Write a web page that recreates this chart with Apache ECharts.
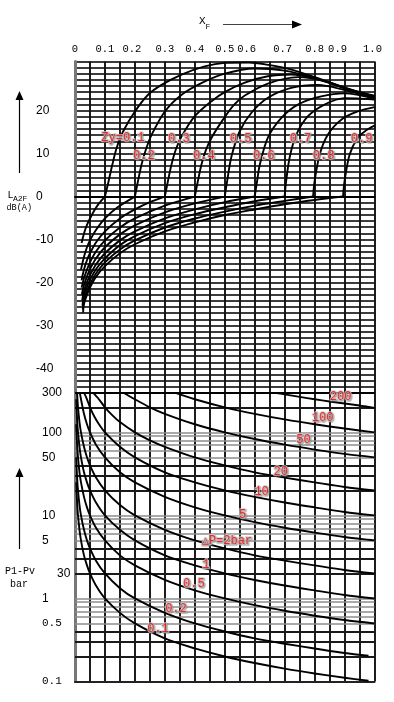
<!DOCTYPE html>
<html><head><meta charset="utf-8">
<script src="https://cdn.jsdelivr.net/npm/echarts@6/dist/echarts.min.js"></script>
<style>html,body{margin:0;padding:0;background:#fff}#c{width:394px;height:702px}</style>
</head><body><div id="c"></div><script>
// ---------- tick labels ----------
const xTickText = ['0','0.1','0.2','0.3','0.4','0.5','0.6','0.7','0.8','0.9','1.0'];
const dbTickValues = [20,10,0,-10,-20,-30,-40];
const pTickValues = [300,100,50,10,5,2,1,0.5,0.1];
const pTickText = ['300','100','50','10','5','30','1','0.5','0.1'];
const pGridMajor = [200,40,30,20,4,3,2,0.4,0.3,0.2];
const pGridMinor = [100,90,80,70,60,50,10,9,8,7,6,5,1,0.9,0.8,0.7,0.6,0.5];

// ---------- upper panel: L_A2F vs x_F for Zy = 0.1 ... 0.9 ----------
const zyValues = [0.1,0.2,0.3,0.4,0.5,0.6,0.7,0.8,0.9];
const low01 = [[0.022,-10.8],[0.03,-8.6],[0.04,-6.6],[0.05,-5.1],[0.065,-3.2],[0.08,-1.6],[0.1,0]];
const low02 = [[0.02,-17],[0.03,-14],[0.04,-11.8],[0.05,-10.2],[0.07,-7.8],[0.1,-5.1],[0.14,-2.6],[0.2,0]];
const low03 = [[0.022,-19.5],[0.03,-17],[0.04,-14.8],[0.05,-13.2],[0.07,-10.7],[0.1,-8.1],[0.15,-5.1],[0.2,-3],[0.25,-1.3],[0.3,0]];
const low04 = [[0.022,-21.2],[0.03,-19],[0.04,-17],[0.05,-15.3],[0.07,-12.8],[0.1,-10.2],[0.15,-7.2],[0.2,-5.1],[0.3,-2.1],[0.4,0]];
const low05 = [[0.023,-22.8],[0.03,-20.6],[0.04,-18.6],[0.05,-16.9],[0.07,-14.4],[0.1,-11.8],[0.15,-8.8],[0.2,-6.7],[0.3,-3.7],[0.4,-1.6],[0.5,0]];
const low06 = [[0.024,-24.2],[0.03,-22],[0.04,-19.9],[0.05,-18.3],[0.07,-15.8],[0.1,-13.2],[0.15,-10.2],[0.2,-8.1],[0.3,-5.1],[0.4,-3],[0.5,-1.3],[0.6,0]];
const low07 = [[0.025,-25.4],[0.03,-23.1],[0.04,-21],[0.05,-19.4],[0.07,-16.9],[0.1,-14.4],[0.15,-11.3],[0.2,-9.2],[0.3,-6.2],[0.4,-4.1],[0.5,-2.5],[0.6,-1.1],[0.7,0]];
const low08 = [[0.026,-26.3],[0.03,-24.1],[0.04,-22],[0.05,-20.4],[0.07,-17.9],[0.1,-15.3],[0.15,-12.3],[0.2,-10.2],[0.3,-7.2],[0.4,-5.1],[0.5,-3.5],[0.6,-2.1],[0.7,-1],[0.795,0]];
const low09 = [[0.027,-27],[0.03,-25],[0.04,-22.9],[0.05,-21.2],[0.07,-18.7],[0.1,-16.2],[0.15,-13.2],[0.2,-11.1],[0.3,-8.1],[0.4,-6],[0.5,-4.3],[0.6,-3],[0.7,-1.8],[0.8,-0.8],[0.895,0]];
const arc01 = [[0.1,0],[0.111,3.2],[0.125,7.5],[0.139,11.3],[0.161,15.2],[0.2,19.8],[0.244,23.7],[0.289,26],[0.356,28.4],[0.433,30.3],[0.5,31.1],[0.58,31.2],[0.64,30.7],[0.72,29.6],[0.833,27],[0.922,24.9],[1.0,23.5]];
const arc02 = [[0.2,0],[0.21,3.5],[0.222,7.4],[0.237,11],[0.256,14.4],[0.3,19.8],[0.356,23.7],[0.422,26.4],[0.5,28.6],[0.6,29.8],[0.7,29.3],[0.8,27.6],[0.9,25.3],[1.0,23.3]];
const arc03 = [[0.3,0],[0.31,3.5],[0.322,7.4],[0.337,11],[0.356,14],[0.4,18.7],[0.456,22.2],[0.5,24.3],[0.567,26.5],[0.644,28],[0.722,28.4],[0.8,27.5],[0.9,25.2],[1.0,23.2]];
const arc04 = [[0.4,0],[0.41,3.5],[0.422,7.4],[0.437,10.8],[0.456,13.7],[0.494,17.9],[0.53,21.3],[0.567,23.5],[0.644,26.3],[0.744,27.8],[0.833,26.9],[0.922,24.7],[1.0,23]];
const arc05 = [[0.5,0],[0.508,3.6],[0.522,9.2],[0.55,15.2],[0.589,19.5],[0.644,23],[0.722,25.3],[0.811,26],[0.9,24.8],[1.0,22.9]];
const arc06 = [[0.6,0],[0.608,3.6],[0.617,7.4],[0.644,13.7],[0.689,18.3],[0.744,21.4],[0.822,23.3],[0.9,24],[1.0,22.8]];
const arc07 = [[0.7,0],[0.705,3.6],[0.717,9.2],[0.739,14.4],[0.778,18.7],[0.833,21.4],[0.9,22.9],[1.0,22.6]];
const arc08 = [[0.795,0],[0.8,3.6],[0.817,9.8],[0.844,14.4],[0.889,17.9],[0.944,19.8],[1.0,20.8]];
const arc09 = [[0.895,0],[0.9,3.6],[0.917,9.8],[0.944,13.7],[0.97,15.3],[1.0,16.5]];
const zyNames = ['Zy=0.1','0.2','0.3','0.4','0.5','0.6','0.7','0.8','0.9'];
const zyLabelAt = [[0.16,13.6],[0.23,9.4],[0.347,13.4],[0.43,9.4],[0.553,13.4],[0.63,9.4],[0.753,13.4],[0.83,9.4],[0.957,13.4]];

// ---------- lower panel: P1-Pv vs x_F for ΔP ----------
const dpValues = [0.1,0.2,0.5,1,2,5,10,20,50,100,200];
const dp0_1 = [[0.004,25],[0.007,14.3],[0.01,10],[0.015,6.7],[0.02,5],[0.03,3.3],[0.04,2.5],[0.05,2],[0.07,1.43],[0.1,1],[0.15,0.67],[0.2,0.5],[0.3,0.33],[0.4,0.25],[0.5,0.2],[0.6,0.167],[0.7,0.143],[0.8,0.125],[0.9,0.111],[0.98,0.102]];
const dp0_2 = [[0.004,50],[0.007,28.5],[0.01,20],[0.015,13.3],[0.02,10],[0.03,6.7],[0.04,5],[0.05,4],[0.07,2.85],[0.1,2],[0.15,1.33],[0.2,1],[0.3,0.67],[0.4,0.5],[0.5,0.4],[0.6,0.33],[0.7,0.285],[0.8,0.25],[0.9,0.22],[0.98,0.204]];
const dp0_5 = [[0.004,125],[0.007,71],[0.01,50],[0.015,33],[0.02,25],[0.03,16.7],[0.04,12.5],[0.05,10],[0.07,7.1],[0.1,5],[0.15,3.3],[0.2,2.5],[0.3,1.67],[0.4,1.25],[0.5,1],[0.6,0.83],[0.7,0.71],[0.8,0.62],[0.9,0.55],[1.0,0.5]];
const dp1 = [[0.004,250],[0.007,143],[0.01,100],[0.015,67],[0.02,50],[0.03,33],[0.04,25],[0.05,20],[0.07,14.3],[0.1,10],[0.15,6.7],[0.2,5],[0.3,3.3],[0.4,2.5],[0.5,2],[0.6,1.67],[0.7,1.43],[0.8,1.25],[0.9,1.1],[1.0,1]];
const dp2 = [[0.007,300],[0.01,200],[0.015,133],[0.02,100],[0.03,67],[0.04,50],[0.05,40],[0.07,28.5],[0.1,20],[0.15,13.3],[0.2,10],[0.3,6.7],[0.4,5],[0.5,4],[0.6,3.3],[0.7,2.85],[0.8,2.5],[0.9,2.2],[1.0,2]];
const dp5 = [[0.016,300],[0.02,250],[0.03,167],[0.04,125],[0.05,100],[0.07,71],[0.1,50],[0.15,33],[0.2,25],[0.3,16.7],[0.4,12.5],[0.5,10],[0.6,8.3],[0.7,7.1],[0.8,6.2],[0.9,5.5],[1.0,5]];
const dp10 = [[0.03,300],[0.04,250],[0.05,200],[0.065,154],[0.08,125],[0.1,100],[0.15,67],[0.2,50],[0.3,33],[0.4,25],[0.5,20],[0.6,16.7],[0.7,14.3],[0.8,12.5],[0.9,11],[1.0,10]];
const dp20 = [[0.06,300],[0.08,250],[0.1,200],[0.125,160],[0.15,133],[0.2,100],[0.25,80],[0.3,67],[0.4,50],[0.5,40],[0.6,33],[0.7,28.5],[0.8,25],[0.9,22],[1.0,20]];
const dp50 = [[0.162,300],[0.2,250],[0.25,200],[0.3,167],[0.4,125],[0.5,100],[0.6,83],[0.7,71],[0.8,62],[0.9,55],[1.0,50]];
const dp100 = [[0.333,300],[0.4,250],[0.5,200],[0.6,167],[0.7,143],[0.8,125],[0.9,111],[1.0,100]];
const dp200 = [[0.667,300],[0.7,286],[0.75,267],[0.8,250],[0.85,235],[0.9,222],[0.95,210],[1.0,197]];
const dpNames = ['0.1','0.2','0.5','1','\u25B3P=2bar','5','10','20','50','100','200'];
const dpLabelAt = [[0.277,0.43],[0.337,0.748],[0.397,1.5],[0.437,2.53],[0.507,4.92],[0.56,10.1],[0.623,19.1],[0.687,33.3],[0.763,80.9],[0.827,149],[0.887,266]];

// ---------- build chart ----------
const lows = [low01,low02,low03,low04,low05,low06,low07,low08,low09];
const arcs = [arc01,arc02,arc03,arc04,arc05,arc06,arc07,arc08,arc09];
const dps = [dp0_1,dp0_2,dp0_5,dp1,dp2,dp5,dp10,dp20,dp50,dp100,dp200];

const MONO = '"Liberation Mono", "DejaVu Sans Mono", monospace';
const SANS = '"Liberation Sans", Arial, sans-serif';
const curveStyle = {color:'#000', width:1.9};
const redLabel = {show:true, position:'inside', color:'#ff0000', fontFamily:MONO, fontSize:12,
  textBorderColor:'rgba(205,205,205,0.95)', textBorderWidth:2,
  textShadowColor:'rgba(120,120,120,0.6)', textShadowBlur:1, textShadowOffsetX:1, textShadowOffsetY:1,
  formatter: p => p.name};

const series = [];
// lower-panel log grid lines
series.push({type:'line', xAxisIndex:1, yAxisIndex:1, data:[[0,0.1]], symbol:'none', silent:true, z:1,
  lineStyle:{opacity:0},
  markLine:{silent:true, symbol:'none', z:1, animation:false, label:{show:false}, emphasis:{disabled:true},
    data: pGridMinor.map(v => ({yAxis:v, lineStyle:{color:'#8c8c8c', width:1.6, type:'solid'}}))
      .concat(pGridMajor.map(v => ({yAxis:v, lineStyle:{color:'#1a1a1a', width:1.8, type:'solid'}})))
      .concat([{yAxis:300, lineStyle:{color:'#000', width:2, type:'solid'}}])}});

const lineBase = {type:'line', symbol:'none', smooth:0.3, lineStyle:curveStyle, z:5, silent:true};
lows.forEach((d,i) => series.push(Object.assign({name:'Zy'+zyValues[i]+'a', xAxisIndex:0, yAxisIndex:0, data:d}, lineBase)));
arcs.forEach((d,i) => series.push(Object.assign({name:'Zy'+zyValues[i]+'b', xAxisIndex:0, yAxisIndex:0, data:d}, lineBase)));
dps.forEach((d,i) => series.push(Object.assign({name:'dP'+dpValues[i], xAxisIndex:1, yAxisIndex:1, data:d}, lineBase)));

series.push({type:'scatter', xAxisIndex:0, yAxisIndex:0, symbolSize:0, silent:true, z:8,
  data: zyNames.map((n,i) => ({name:n, value:zyLabelAt[i]})), label:redLabel});
series.push({type:'scatter', xAxisIndex:1, yAxisIndex:1, symbolSize:0, silent:true, z:8,
  data: dpNames.map((n,i) => ({name:n, value:dpLabelAt[i]})), label:redLabel});

const xShift = {'0.2':3,'0.6':8,'0.7':2,'0.9':7,'1.0':2};
const rich = {};
[0,2,3,7,8].forEach(s => { rich['s'+s] = {fontFamily:MONO, fontSize:10.5, color:'#000', padding:[0,2*s,0,0]}; });

const vSplit = {show:true, lineStyle:{color:'#111', width:1.9}};

const option = {
  animation:false,
  backgroundColor:'#fff',
  grid:[
    {left:75, width:299.5, top:61.5, height:331.5, containLabel:false},
    {left:75, width:299.5, top:392.7, height:288.8, containLabel:false}
  ],
  xAxis:[
    {gridIndex:0, type:'value', position:'top', min:0, max:1, interval:0.05,
      axisLine:{show:true, lineStyle:{color:'#000', width:2}}, axisTick:{show:false},
      splitLine:vSplit,
      axisLabel:{show:true, margin:7, formatter: v => {
        const k = Math.round(v*20);
        if (k % 2) return '';
        const t = xTickText[k/2];
        return '{s' + (xShift[t]||0) + '|' + t + '}';
      }, rich:rich}},
    {gridIndex:1, type:'value', min:0, max:1, interval:0.05,
      axisLine:{show:true, lineStyle:{color:'#222', width:2}}, axisTick:{show:false},
      axisLabel:{show:false}, splitLine:vSplit}
  ],
  yAxis:[
    {gridIndex:0, type:'value', min:-320/7, max:220/7, interval:10/7,
      axisLine:{show:true, lineStyle:{color:'#777', width:3}}, axisTick:{show:false},
      splitLine:{show:true, lineStyle:{color:'#3c3c3c', width:1.8}},
      axisLabel:{show:true, align:'left', margin:39, fontFamily:SANS, fontSize:12, color:'#000',
        formatter: v => {
          const r = Math.round(v/10)*10;
          return (Math.abs(v-r) < 0.01 && dbTickValues.indexOf(r) >= 0) ? String(r) : '';
        }}},
    {gridIndex:1, type:'log', logBase:10, min:0.1, max:300,
      axisLine:{show:true, lineStyle:{color:'#777', width:3}}, axisTick:{show:false},
      splitLine:{show:false}, minorSplitLine:{show:false},
      axisLabel:{show:true, align:'left', margin:33, color:'#000', customValues:pTickValues,
        formatter: v => {
          let idx = -1;
          pTickValues.forEach((p,i) => { if (Math.abs(p - v) / p < 1e-6) idx = i; });
          if (idx < 0) return '';
          const t = pTickText[idx];
          if (t === '30') return '{r|' + t + '}';
          return (t.indexOf('.') >= 0 ? '{m|' : '{n|') + t + '}';
        },
        rich:{
          n:{fontFamily:SANS, fontSize:12, color:'#000'},
          m:{fontFamily:MONO, fontSize:11, color:'#000'},
          r:{fontFamily:SANS, fontSize:12, color:'#000', padding:[0,0,0,15]}
        }}}
  ],
  graphic:[
    {type:'text', left:199, top:16, style:{text:'X', font:'11px ' + MONO, fill:'#000'}},
    {type:'text', left:205.5, top:23, style:{text:'F', font:'8px ' + MONO, fill:'#000'}},
    {type:'line', shape:{x1:223, y1:24.5, x2:295, y2:24.5}, style:{stroke:'#444', lineWidth:1.2}},
    {type:'polygon', shape:{points:[[292,20.5],[302,24.5],[292,28.5]]}, style:{fill:'#000'}},
    {type:'line', shape:{x1:19.5, y1:173, x2:19.5, y2:98}, style:{stroke:'#000', lineWidth:1.2}},
    {type:'polygon', shape:{points:[[15.5,100],[19.5,91],[23.5,100]]}, style:{fill:'#000'}},
    {type:'text', left:7.5, top:190, style:{text:'L', font:'10px ' + MONO, fill:'#000'}},
    {type:'text', left:13, top:194.5, style:{text:'A2F', font:'8px ' + MONO, fill:'#000'}},
    {type:'text', left:6.5, top:203, style:{text:'dB(A)', font:'8.5px ' + MONO, fill:'#000'}},
    {type:'line', shape:{x1:19.5, y1:549, x2:19.5, y2:475}, style:{stroke:'#000', lineWidth:1.2}},
    {type:'polygon', shape:{points:[[15.5,477],[19.5,468],[23.5,477]]}, style:{fill:'#000'}},
    {type:'text', left:5, top:566, style:{text:'P1-Pv', font:'10px ' + MONO, fill:'#000'}},
    {type:'text', left:10, top:579, style:{text:'bar', font:'10px ' + MONO, fill:'#000'}}
  ],
  series:series
};
const chart = echarts.init(document.getElementById('c'), null, {renderer:'canvas'});
chart.setOption(option);
</script></body></html>
